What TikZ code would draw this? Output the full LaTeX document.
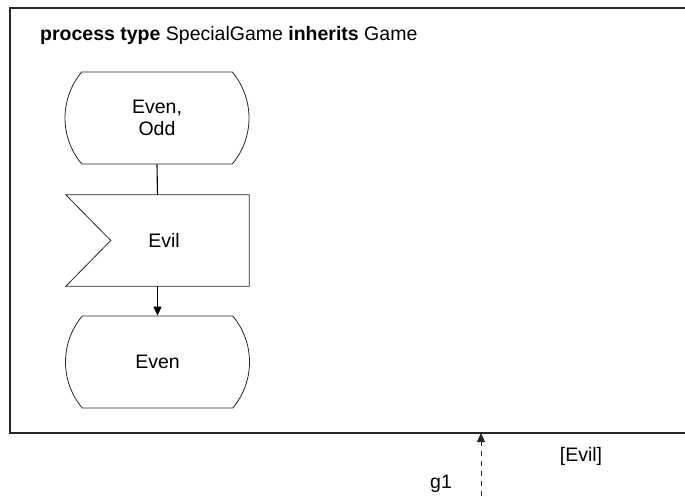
\documentclass[tikz,border=0pt]{standalone}
\usepackage{fontspec}
\setmainfont{Liberation Sans}
\usepackage{tikz}
\usetikzlibrary{arrows.meta, positioning, shapes.misc}
\tikzset{
  sdlframe/.style={line width=1.2pt,black!85},
  sdlline/.style={draw=black!85,line width=0.8pt},
  sdlstate/.style={rounded rectangle,rounded rectangle arc length=80,sdlline,
    minimum width=184pt,minimum height=92pt,inner sep=0pt,align=center,font=\sdlfont},
  sdlinput/.style={rectangle,minimum width=183pt,minimum height=91pt,inner sep=0pt,font=\sdlfont},
  flowline/.style={line width=1.1pt,black},
  flowarrow/.style={flowline,-{Triangle[length=9pt,width=8pt]}},
  gatearrow/.style={line width=0.8pt,black!85,dash pattern=on 5pt off 5pt,-{Triangle[length=9pt,width=8pt]}},
  sdltext/.style={font=\sdlfont,inner sep=0pt},
}
\newcommand{\sdlfont}{\fontsize{19.5}{22.5}\selectfont}

\begin{document}
\begin{tikzpicture}[x=1pt,y=-1pt]
  \useasboundingbox (0,0) rectangle (685,496);
  % frame of the process type
  \draw[sdlframe] (685,8) -- (10,8) -- (10,433) -- (685,433);
  \node[sdltext,anchor=base west] (title) at (40,40) {\textbf{process type} SpecialGame \textbf{inherits} Game};
  % transition
  \node[sdlstate] (sEvenOdd) at (157,118) {Even,\\Odd};
  \node[sdlinput] (iEvil) at (157.5,240.5) {\hspace*{13pt}Evil};
  \draw[sdlline] (iEvil.north west) -- (iEvil.north east) -- (iEvil.south east)
    -- (iEvil.south west) -- ([xshift=45pt]iEvil.west) -- cycle;
  \node[sdlstate] (sEven) at (157.5,362) {Even};
  \draw[flowline] (sEvenOdd.south) -- (iEvil.north);
  \draw[flowarrow] (iEvil.south) -- (sEven.north);
  % gate
  \coordinate (gFoot) at (481,496);
  \coordinate (gTip) at (481,433);
  \draw[gatearrow] (gFoot) -- (gTip);
  \node[sdltext,anchor=base] (gName) at (441,488) {g1};
  \node[sdltext,anchor=base] (gSig) at (581,461) {[Evil]};
\end{tikzpicture}
\end{document}
